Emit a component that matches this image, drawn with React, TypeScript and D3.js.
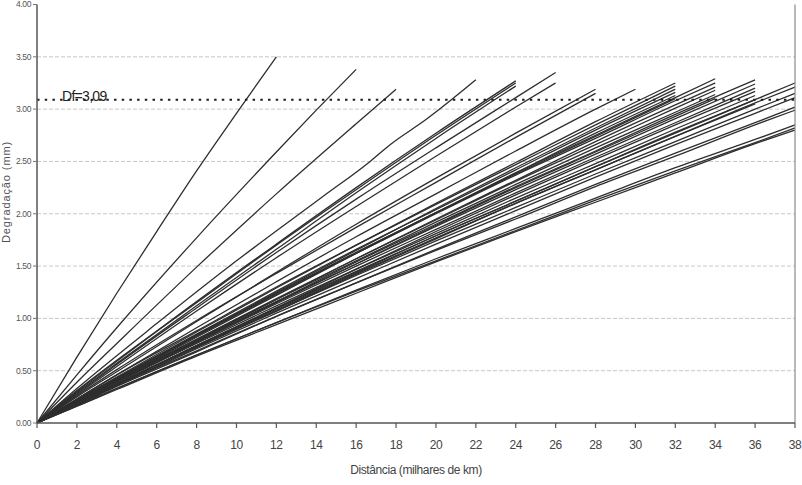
import React from "react";
import * as d3 from "d3";

// distance (thousand km) sample points per group, and wear (mm) per line
const distA = [0, 2, 4, 6, 8, 10, 12];
const wearA = [[0, 0.63, 1.24, 1.83, 2.41, 2.96, 3.5]];

const distB = [0, 2, 4, 8, 12, 14, 16];
const wearB = [[0, 0.46, 0.91, 1.77, 2.59, 2.99, 3.38]];

const distC = [0, 2, 4, 8, 12, 16, 18];
const wearC = [[0, 0.39, 0.76, 1.49, 2.19, 2.86, 3.19]];

const distD = [0, 2, 6, 10, 14.3, 16.7, 17.7, 19.5, 22];
const wearD = [[0, 0.33, 0.95, 1.55, 2.16, 2.5, 2.66, 2.9, 3.28]];

const dist24 = [0, 2, 4, 8, 12, 16, 20, 24];
const wear24 = [
  [0, 0.3, 0.59, 1.16, 1.71, 2.25, 2.77, 3.27],
  [0, 0.31, 0.6, 1.15, 1.7, 2.23, 2.75, 3.25],
  [0, 0.29, 0.57, 1.12, 1.66, 2.2, 2.72, 3.22],
];

const dist26 = [0, 2, 4, 8, 12, 16, 20, 24, 26];
const wear26 = [
  [0, 0.28, 0.56, 1.1, 1.63, 2.14, 2.63, 3.11, 3.35],
  [0, 0.27, 0.54, 1.07, 1.58, 2.07, 2.55, 3.02, 3.25],
];

const dist28 = [0, 2, 4, 8, 12, 16, 20, 24, 28];
const wear28 = [
  [0, 0.25, 0.49, 0.97, 1.44, 1.9, 2.34, 2.77, 3.19],
  [0, 0.26, 0.51, 0.98, 1.43, 1.87, 2.3, 2.73, 3.15],
];

const dist30 = [0, 2, 4, 8, 12, 16, 20, 24, 28, 30];
const wear30 = [[0, 0.23, 0.46, 0.91, 1.35, 1.78, 2.19, 2.6, 3.0, 3.19]];

const dist32 = [0, 2, 4, 8, 12, 16, 20, 24, 28, 32];
const wear32 = [
  [0, 0.22, 0.44, 0.87, 1.29, 1.7, 2.1, 2.49, 2.88, 3.25],
  [0, 0.23, 0.46, 0.88, 1.3, 1.7, 2.09, 2.47, 2.85, 3.22],
  [0, 0.21, 0.42, 0.84, 1.25, 1.65, 2.05, 2.44, 2.82, 3.19],
  [0, 0.22, 0.43, 0.85, 1.26, 1.66, 2.04, 2.42, 2.8, 3.16],
  [0, 0.21, 0.41, 0.82, 1.22, 1.62, 2.01, 2.39, 2.77, 3.13],
  [0, 0.22, 0.43, 0.84, 1.24, 1.63, 2.01, 2.38, 2.74, 3.1],
];

const dist34 = [0, 2, 4, 8, 12, 16, 20, 24, 28, 32, 34];
const wear34 = [
  [0, 0.21, 0.42, 0.83, 1.23, 1.63, 2.01, 2.39, 2.75, 3.11, 3.29],
  [0, 0.22, 0.43, 0.84, 1.24, 1.62, 2.0, 2.37, 2.72, 3.08, 3.25],
  [0, 0.2, 0.4, 0.79, 1.18, 1.57, 1.95, 2.32, 2.69, 3.04, 3.21],
  [0, 0.2, 0.41, 0.8, 1.19, 1.57, 1.94, 2.31, 2.66, 3.01, 3.18],
  [0, 0.21, 0.41, 0.8, 1.18, 1.55, 1.92, 2.28, 2.63, 2.97, 3.14],
  [0, 0.19, 0.39, 0.77, 1.15, 1.52, 1.89, 2.25, 2.59, 2.93, 3.1],
];

const dist36 = [0, 2, 4, 8, 12, 16, 20, 24, 28, 32, 36];
const wear36 = [
  [0, 0.2, 0.4, 0.78, 1.16, 1.54, 1.9, 2.26, 2.6, 2.95, 3.28],
  [0, 0.21, 0.41, 0.79, 1.16, 1.52, 1.88, 2.23, 2.57, 2.91, 3.24],
  [0, 0.19, 0.39, 0.77, 1.14, 1.5, 1.85, 2.2, 2.54, 2.87, 3.2],
  [0, 0.18, 0.37, 0.74, 1.1, 1.47, 1.83, 2.18, 2.52, 2.85, 3.17],
  [0, 0.2, 0.39, 0.76, 1.12, 1.47, 1.81, 2.15, 2.48, 2.81, 3.13],
  [0, 0.19, 0.37, 0.74, 1.1, 1.45, 1.79, 2.12, 2.45, 2.77, 3.09],
  [0, 0.18, 0.36, 0.72, 1.07, 1.42, 1.76, 2.1, 2.42, 2.74, 3.05],
];

const dist38 = [0, 2, 4, 8, 12, 16, 20, 24, 28, 32, 36, 38];
const wear38 = [
  [0, 0.19, 0.37, 0.74, 1.09, 1.44, 1.79, 2.12, 2.45, 2.78, 3.09, 3.25],
  [0, 0.18, 0.37, 0.73, 1.08, 1.43, 1.77, 2.1, 2.42, 2.74, 3.06, 3.21],
  [0, 0.19, 0.38, 0.73, 1.07, 1.41, 1.74, 2.06, 2.38, 2.69, 3.0, 3.15],
  [0, 0.18, 0.36, 0.71, 1.05, 1.38, 1.71, 2.03, 2.35, 2.66, 2.96, 3.11],
  [0, 0.17, 0.35, 0.68, 1.02, 1.34, 1.66, 1.97, 2.28, 2.58, 2.87, 3.02],
  [0, 0.18, 0.36, 0.69, 1.02, 1.34, 1.65, 1.95, 2.26, 2.55, 2.85, 2.99],
  [0, 0.16, 0.33, 0.65, 0.96, 1.27, 1.57, 1.86, 2.15, 2.44, 2.71, 2.85],
  [0, 0.17, 0.33, 0.65, 0.96, 1.26, 1.55, 1.84, 2.13, 2.41, 2.68, 2.82],
  [0, 0.16, 0.32, 0.64, 0.94, 1.24, 1.54, 1.83, 2.11, 2.39, 2.67, 2.8],
];

const groups: [number[], number[][]][] = [
  [distA, wearA],
  [distB, wearB],
  [distC, wearC],
  [distD, wearD],
  [dist24, wear24],
  [dist26, wear26],
  [dist28, wear28],
  [dist30, wear30],
  [dist32, wear32],
  [dist34, wear34],
  [dist36, wear36],
  [dist38, wear38],
];

const xTicks = d3.range(0, 39, 2);
const yTicks = [0, 0.5, 1, 1.5, 2, 2.5, 3, 3.5, 4];
const dfValue = 3.09;
const dfLabel = "Df=3,09";

const width = 802;
const height = 485;
const margin = { top: 4.5, right: 7, bottom: 62, left: 37 };

export default function App() {
  const x = d3.scaleLinear().domain([0, 38]).range([margin.left, width - margin.right]);
  const y = d3.scaleLinear().domain([0, 4]).range([height - margin.bottom, margin.top]);

  const line = d3
    .line<[number, number]>()
    .x((d) => x(d[0]))
    .y((d) => y(d[1]))
    .curve(d3.curveMonotoneX);

  const paths: string[] = [];
  groups.forEach(([dist, wears]) => {
    wears.forEach((w) => {
      paths.push(line(dist.map((d, i) => [d, w[i]] as [number, number])) || "");
    });
  });

  const font = "'Liberation Sans', Arial, sans-serif";
  const x0 = x(0);
  const x1 = x(38);
  const yb = y(0);
  const yt = y(4);

  return (
    <svg
      width={width}
      height={height}
      style={{ position: "absolute", left: 0, top: 0, background: "#fff" }}
      fontFamily={font}
    >
      {/* grid */}
      {yTicks.slice(1, -1).map((t) => (
        <line
          key={"g" + t}
          x1={x0}
          x2={x1}
          y1={y(t)}
          y2={y(t)}
          stroke="#c8c8c8"
          strokeWidth={1}
          strokeDasharray="4,2"
        />
      ))}

      {/* series */}
      {paths.map((p, i) => (
        <path key={i} d={p} fill="none" stroke="#2e2e2e" strokeWidth={1.3} />
      ))}

      {/* Df reference */}
      <line
        x1={x0}
        x2={x1}
        y1={y(dfValue)}
        y2={y(dfValue)}
        stroke="#1e1e1e"
        strokeWidth={2}
        strokeDasharray="2.5,5.2"
      />
      <text x={62} y={y(dfValue) + 1} fontSize={14} letterSpacing={-0.7} fill="#222">
        {dfLabel}
      </text>

      {/* axes frame */}
      <line x1={x0} x2={x0} y1={yt} y2={yb} stroke="#555" strokeWidth={1.5} />
      <line x1={x1} x2={x1} y1={yt} y2={yb} stroke="#8a8a8a" strokeWidth={1.2} />
      <line x1={x0} x2={x1} y1={yb} y2={yb} stroke="#555" strokeWidth={1.5} />

      {/* y ticks */}
      {yTicks.map((t) => (
        <g key={"y" + t}>
          <line x1={x0 - 4} x2={x0} y1={y(t)} y2={y(t)} stroke="#777" strokeWidth={1} />
          <text
            x={x0 - 6}
            y={y(t)}
            dy="0.35em"
            textAnchor="end"
            fontSize={8.5}
            letterSpacing={-0.4}
            fill="#555"
          >
            {t.toFixed(2)}
          </text>
        </g>
      ))}

      {/* x ticks */}
      {xTicks.map((t) => (
        <g key={"x" + t}>
          <line x1={x(t)} x2={x(t)} y1={yb} y2={yb + 5} stroke="#555" strokeWidth={1.2} />
          <text x={x(t)} y={yb + 26} textAnchor="middle" fontSize={12} letterSpacing={-0.4} fill="#444">
            {t}
          </text>
        </g>
      ))}

      {/* titles */}
      <text x={416} y={474} textAnchor="middle" fontSize={12} letterSpacing={-0.4} fill="#444">
        Distância (milhares de km)
      </text>
      <text
        transform={`translate(10, 192) rotate(-90)`}
        textAnchor="middle"
        fontSize={11}
        letterSpacing={0.9}
        fill="#555"
      >
        Degradação (mm)
      </text>
    </svg>
  );
}
